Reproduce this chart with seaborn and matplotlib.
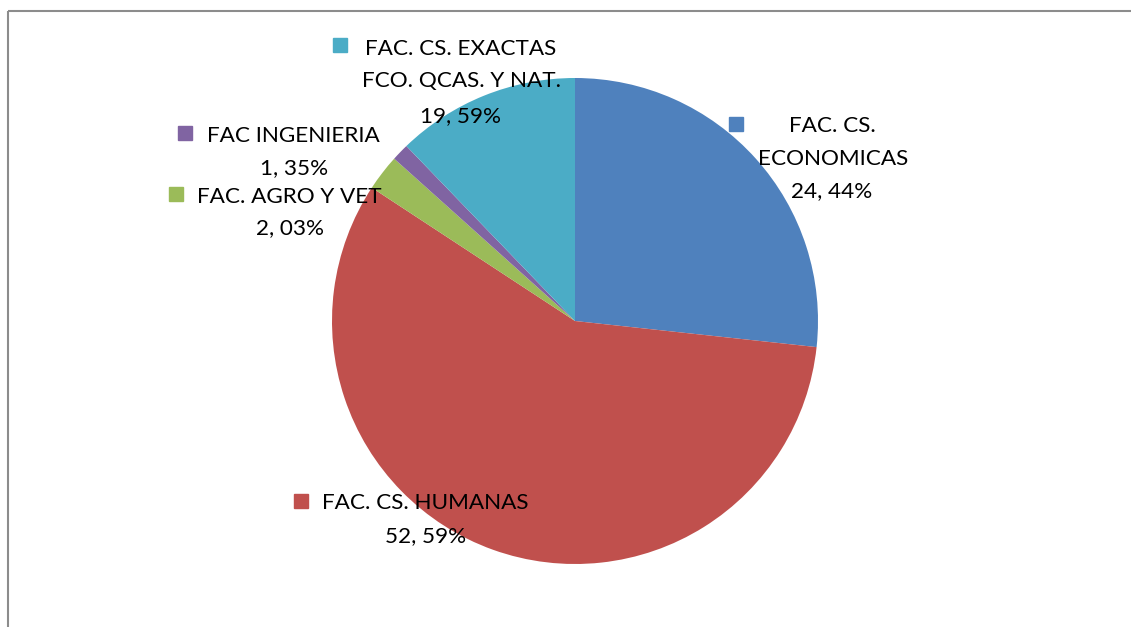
import matplotlib
matplotlib.use("Agg")
import matplotlib.pyplot as plt
import seaborn as sns

facultades = ['FAC. CS. ECONOMICAS', 'FAC. CS. HUMANAS', 'FAC. AGRO Y VET',
              'FAC INGENIERIA', 'FAC. CS. EXACTAS FCO. QCAS. Y NAT.']
sectores = [26.7, 57.5, 2.4, 1.15, 12.2]
# textos de las etiquetas tal como aparecen
etiquetas = ['24, 44%', '52, 59%', '2, 03%', '1, 35%', '19, 59%']
colores = ['#4F81BD', '#C0504D', '#9BBB59', '#8064A2', '#4BACC6']

ANCHO, ALTO = 1131, 627

sns.set_theme(style='white')
plt.rcParams['font.family'] = ['Lato', 'DejaVu Sans']
paleta = sns.color_palette(colores)

fig = plt.figure(figsize=(ANCHO / 100, ALTO / 100), dpi=100)
ax = fig.add_axes([0, 0, 1, 1])

ax.pie(sectores, colors=paleta, startangle=90, counterclock=False,
       center=(575, ALTO - 321), radius=243,
       wedgeprops={'linewidth': 0})

ax.set_xlim(0, ANCHO)
ax.set_ylim(0, ALTO)
ax.set_aspect('equal')
ax.axis('off')


def y(py):
    # pasar de coordenada de pixel (desde arriba) a coordenada del eje
    return ALTO - py


# posicion de cada etiqueta: lineas de texto (x centro, linea base) y cuadrito de leyenda
bloques = [
    ([('FAC. CS.', 832, 131.7), ('ECONOMICAS', 833, 165), (etiquetas[0], 832, 196.7)], (735.5, 123.7)),
    ([('FAC. CS. HUMANAS', 425.3, 509.3), (etiquetas[1], 425.3, 541.7)], (300.5, 500.5)),
    ([('FAC. AGRO Y VET', 289, 203.3), (etiquetas[2], 289.5, 234)], (176.3, 193.7)),
    ([('FAC INGENIERIA', 293, 141.7), (etiquetas[3], 294, 174)], (185, 133)),
    ([('FAC. CS. EXACTAS', 460.5, 55), ('FCO. QCAS. Y NAT.', 461, 86.7), (etiquetas[4], 460.5, 121.7)], (339.7, 45.3)),
]

for (lineas, cuadro), color in zip(bloques, paleta):
    for texto, px, py in lineas:
        ax.text(px, y(py), texto, ha='center', va='baseline',
                fontsize=16.2, color='black')
    ax.plot(cuadro[0], y(cuadro[1]), marker='s', markersize=10,
            color=color, linestyle='none')

# marco del area del grafico (solo borde superior e izquierdo visibles)
ax.plot([8, 8], [y(10.7), 0], color='#8c8c8c', linewidth=1.5, solid_capstyle='butt')
ax.plot([8, ANCHO], [y(10.7), y(10.7)], color='#8c8c8c', linewidth=1.5, solid_capstyle='butt')

fig.savefig('out.png', dpi=100)
